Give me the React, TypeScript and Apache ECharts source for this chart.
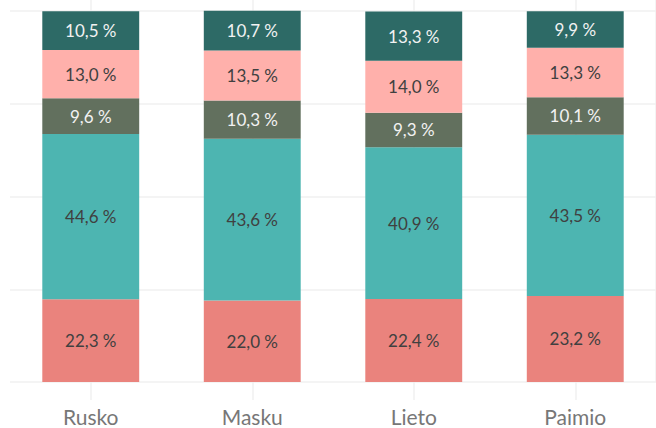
import React, { useEffect, useRef } from "react";
import * as echarts from "echarts";

const categories = ["Rusko", "Masku", "Lieto", "Paimio"];
const seriesNames = ["Ryhmä 1", "Ryhmä 2", "Ryhmä 3", "Ryhmä 4", "Ryhmä 5"];
const group1 = [22.3, 22.0, 22.4, 23.2];
const group2 = [44.6, 43.6, 40.9, 43.5];
const group3 = [9.6, 10.3, 9.3, 10.1];
const group4 = [13.0, 13.5, 14.0, 13.3];
const group5 = [10.5, 10.7, 13.3, 9.9];

const colors = ["#ea837d", "#4db5b1", "#62705e", "#ffb0ab", "#2d6a66"];
const labelColors = ["#404040", "#404040", "#f2f2f2", "#404040", "#f2f2f2"];
const grid = "#f1f1f1";

export default function App() {
  const ref = useRef<HTMLDivElement>(null);
  useEffect(() => {
    const chart = echarts.init(ref.current!, undefined, { renderer: "svg" });
    const values = [group1, group2, group3, group4, group5];
    // helper axis with two slots per category, so its boundaries fall on category centres
    const halfSlots = categories.flatMap((c) => [c + "-a", c + "-b"]);
    chart.setOption({
      animation: false,
      textStyle: { fontFamily: "Lato" },
      grid: { left: 10, right: -2, top: 0, bottom: 46, containLabel: false },
      xAxis: [
        {
          type: "category",
          data: categories,
          axisLine: { show: false },
          axisTick: { show: true, alignWithLabel: true, length: 18, lineStyle: { color: grid, width: 1.5 } },
          axisLabel: { color: "#777777", fontSize: 21, margin: 24, fontFamily: "Lato" },
          splitLine: { show: false },
        },
        {
          type: "category",
          data: halfSlots,
          position: "bottom",
          axisLine: { show: false },
          axisTick: { show: false },
          axisLabel: { show: false },
          splitLine: {
            show: true,
            interval: (i: number) => i % 2 === 1,
            lineStyle: { color: grid, width: 1.5 },
          },
        },
      ],
      yAxis: {
        type: "value",
        min: 0,
        max: 103,
        interval: 25,
        axisLabel: { show: false },
        axisLine: { show: false },
        axisTick: { show: false },
        splitLine: { show: true, showMaxLine: false, lineStyle: { color: grid, width: 1.5 } },
      },
      series: values.map((v, i) => ({
        name: seriesNames[i],
        type: "bar",
        stack: "total",
        xAxisIndex: 0,
        barWidth: "60%",
        data: v,
        itemStyle: { color: colors[i] },
        label: {
          show: true,
          position: "inside",
          color: labelColors[i],
          fontSize: 17,
          fontFamily: "Lato",
          formatter: (p: any) => `${Number(p.value).toFixed(1).replace(".", ",")} %`,
        },
      })),
    });
    return () => chart.dispose();
  }, []);
  return <div ref={ref} style={{ width: 656, height: 428, position: "absolute", left: 0, top: 0 }} />;
}
